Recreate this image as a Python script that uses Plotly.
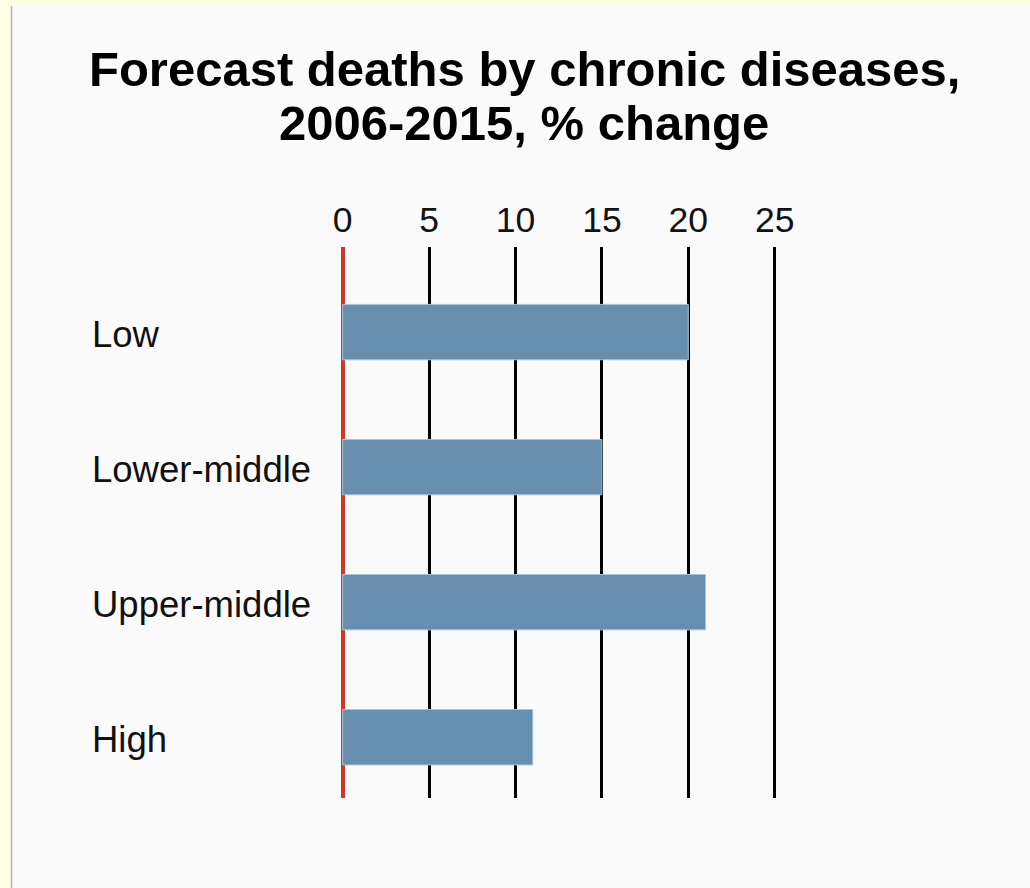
import plotly.graph_objects as go

# ---- data ----
categories = ["Low", "Lower-middle", "Upper-middle", "High"]
pct_change = [20, 15, 21, 11]
tick_values = [0, 5, 10, 15, 20, 25]
tick_labels = ["0", "5", "10", "15", "20", "25"]
title_lines = ["Forecast deaths by chronic diseases,", "2006-2015, % change"]

# ---- layout geometry (pixels) ----
W, H = 1030, 888
L, R, T, B = 334, 238, 247, 90
PW = W - L - R
PH = H - T - B


def px_x(px):
    return (px - L) / PW


def px_y(py):
    return (H - B - py) / PH


FONT = "Liberation Sans, Arial, sans-serif"
BAR_COLOR = "#688eae"
CREAM = "#fffee6"

fig = go.Figure(
    go.Bar(
        x=pct_change,
        y=categories,
        orientation="h",
        width=0.41,
        marker=dict(color=BAR_COLOR, line=dict(color="#a9c3da", width=1)),
        hoverinfo="x+y",
    )
)

annotations = []
for c in categories:
    annotations.append(
        dict(
            x=px_x(90), xref="paper", xanchor="left",
            y=c, yref="y", yanchor="middle", yshift=-2,
            text=c, showarrow=False,
            font=dict(family=FONT, size=36.5, color="#111111"),
        )
    )

for line, py in zip(title_lines, [69, 123]):
    annotations.append(
        dict(
            x=px_x(524), xref="paper", xanchor="center",
            y=px_y(py), yref="paper", yanchor="middle",
            text=line, showarrow=False,
            font=dict(family=FONT, size=49, color="#000000", weight="bold"),
        )
    )

shapes = [
    # cream strip along the left edge
    dict(type="rect", xref="paper", yref="paper",
         x0=px_x(0), x1=px_x(11), y0=px_y(H), y1=px_y(0),
         fillcolor=CREAM, line=dict(width=0), layer="below"),
    # cream strip along the top edge
    dict(type="rect", xref="paper", yref="paper",
         x0=px_x(0), x1=px_x(W), y0=px_y(6), y1=px_y(0),
         fillcolor=CREAM, line=dict(width=0), layer="below"),
    # thin grey border line
    dict(type="line", xref="paper", yref="paper",
         x0=px_x(11.5), x1=px_x(11.5), y0=px_y(H), y1=px_y(6),
         line=dict(color="#b4b4aa", width=1.5), layer="below"),
]

fig.update_layout(
    width=W, height=H,
    margin=dict(l=L, r=R, t=T, b=B, pad=0),
    paper_bgcolor="#fafafa",
    plot_bgcolor="#fafafa",
    showlegend=False,
    annotations=annotations,
    shapes=shapes,
    font=dict(family=FONT, color="#111111"),
    xaxis=dict(
        side="top",
        range=[-0.5, 26],
        tickvals=tick_values,
        ticktext=tick_labels,
        tickfont=dict(family=FONT, size=35.5, color="#111111"),
        ticklabelstandoff=7,
        showgrid=True, gridcolor="#000000", gridwidth=3,
        zeroline=True, zerolinecolor="#cc3a24", zerolinewidth=4,
        showline=False, ticks="",
        fixedrange=True,
    ),
    yaxis=dict(
        type="category",
        categoryorder="array", categoryarray=categories,
        range=[3.45, -0.63],
        showticklabels=False, showgrid=False, zeroline=False,
        showline=False, ticks="",
        fixedrange=True,
    ),
)

fig.write_html(
    "out.html",
    config={"displayModeBar": False},
    post_script="document.body.style.margin='0';document.body.style.overflow='hidden';",
)
